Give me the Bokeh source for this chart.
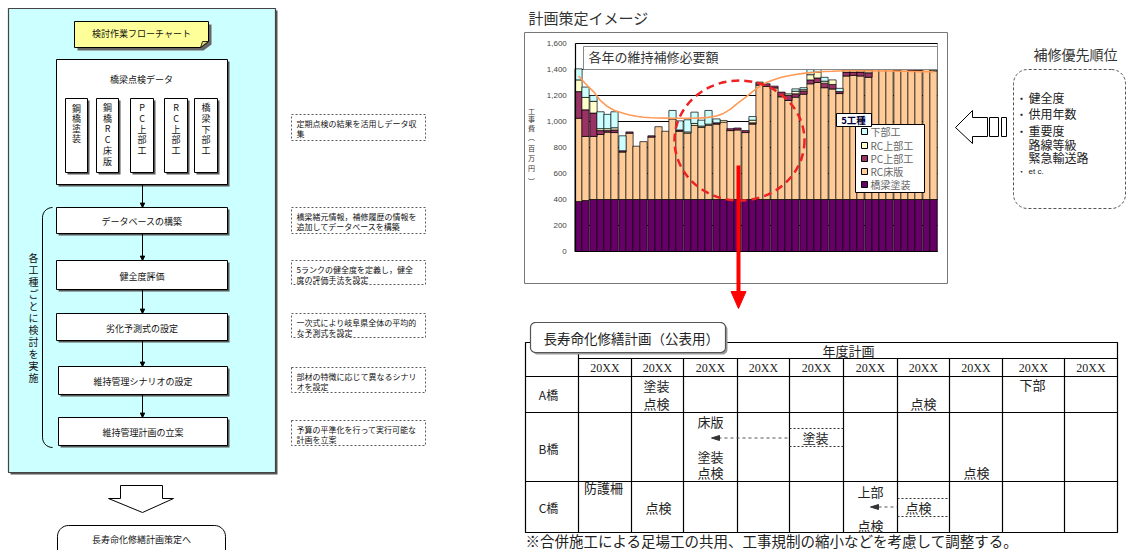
import numpy as np
from bokeh.plotting import figure
from bokeh.models import Range1d
from bokeh.core.properties import value
from bokeh.embed import file_html
from bokeh.resources import INLINE

JP = "Noto Sans CJK JP"

# ------------------------------------------------------------------
# Bar chart data: 各年の維持補修必要額 (工事費 百万円), 50 years
# ------------------------------------------------------------------
series_names = ["橋梁塗装", "RC床版", "PC上部工", "RC上部工", "下部工"]
series_colors = ["#660066", "#FFCC99", "#993366", "#FFFFCC", "#CCFFFF"]

painting = [385, 392, 400, 400, 400, 400, 400, 400, 400, 400,
            400, 400, 400, 400, 400, 400, 400, 400, 400, 400,
            400, 400, 400, 400, 400, 400, 400, 400, 400, 400,
            400, 400, 400, 400, 400, 400, 400, 400, 400, 400,
            400, 400, 400, 400, 400, 400, 400, 400, 400, 400]
rc_deck = [640, 493, 485, 500, 518, 515, 365, 510, 410, 445,
           480, 560, 525, 620, 525, 510, 570, 555, 570, 580,
           595, 530, 535, 515, 580, 880, 870, 858, 790, 762,
           787, 810, 890, 900, 860, 850, 815, 950, 955, 950,
           940, 1015, 1000, 1025, 995, 1030, 990, 992, 1005, 990]
pc_super = [205, 205, 180, 30, 12, 20, 10, 10, 0, 0,
            10, 0, 0, 0, 10, 0, 0, 0, 0, 10,
            0, 15, 15, 15, 10, 15, 20, 14, 36, 40,
            26, 25, 30, 35, 35, 35, 15, 30, 25, 30,
            35, 25, 25, 30, 25, 30, 15, 15, 15, 0]
rc_super = [90, 95, 90, 15, 15, 17, 0, 0, 0, 0,
            0, 0, 0, 0, 0, 10, 15, 10, 10, 0,
            13, 0, 0, 0, 20, 8, 0, 0, 0, 11,
            20, 10, 40, 45, 15, 35, 0, 15, 15, 10,
            20, 15, 10, 12, 10, 12, 5, 8, 8, 7]
substructure = [85, 80, 45, 130, 110, 123, 115, 0, 0, 0,
                0, 0, 0, 65, 70, 93, 87, 45, 105, 30,
                0, 0, 0, 0, 28, 0, 0, 0, 0, 0,
                18, 15, 45, 35, 30, 0, 25, 0, 0, 0,
                0, 0, 0, 0, 0, 0, 0, 0, 0, 0]
trend = [1350, 1290, 1230, 1160, 1115, 1085, 1065, 1050, 1040, 1033,
         1029, 1027, 1026, 1025, 1025, 1025, 1026, 1028, 1032, 1042,
         1062, 1095, 1140, 1185, 1230, 1270, 1300, 1323, 1340, 1352,
         1362, 1370, 1376, 1381, 1385, 1387, 1389, 1390, 1390, 1390,
         1389, 1389, 1388, 1388, 1387, 1386, 1385, 1384, 1383, 1382]
y_ticks = [0, 200, 400, 600, 800, 1000, 1200, 1400, 1600]
y_tick_labels = ["0", "200", "400", "600", "800", "1,000", "1,200", "1,400", "1,600"]

# ------------------------------------------------------------------
# Plan table data
# ------------------------------------------------------------------
year_labels = ["20XX"] * 10
bridge_labels = ["A橋", "B橋", "C橋"]

# ------------------------------------------------------------------
p = figure(width=1126, height=550, x_range=Range1d(0, 1126), y_range=Range1d(550, 0),
           output_backend="svg", toolbar_location=None, min_border=0,
           x_axis_location=None, y_axis_location=None)
p.grid.visible = False
p.outline_line_color = None
p.background_fill_color = "white"
p.border_fill_color = "white"


def quad(x0, y0, x1, y1, fill="white", line="black", lw=1.0, dash="solid"):
    p.quad(left=[x0], right=[x1], top=[y0], bottom=[y1], fill_color=fill,
           line_color=line, line_width=lw, line_dash=dash)


def txt(x, y, s, size, color="#111111", align="center", font=JP, style="normal"):
    p.text(x=[x], y=[y], text=[s], text_font=value(font), text_font_size=f"{size}px",
           text_color=color, text_align=align, text_baseline="middle",
           text_font_style=style)


def vtxt(x, y0, step, s, size, color="#111111", font=JP):
    chars = list(s)
    p.text(x=[x] * len(chars), y=[y0 + k * step for k in range(len(chars))], text=chars,
           text_font=value(font), text_font_size=f"{size}px", text_color=color,
           text_align="center", text_baseline="middle")


def rr_path(x0, y0, x1, y1, r, n=10):
    xs, ys = [], []
    for cx, cy, a0 in [(x1 - r, y0 + r, -90), (x1 - r, y1 - r, 0), (x0 + r, y1 - r, 90), (x0 + r, y0 + r, 180)]:
        for t in np.linspace(np.radians(a0), np.radians(a0 + 90), n):
            xs.append(cx + r * np.cos(t))
            ys.append(cy + r * np.sin(t))
    return xs, ys


def shadow_box(x0, y0, x1, y1, fill="white", off=2, lw=1.0):
    quad(x0 + off, y0 + off, x1 + off, y1 + off, fill="#555555", line=None)
    quad(x0, y0, x1, y1, fill=fill, line="black", lw=lw)


def tri_down(x, y, s=2.2):
    p.patch([x - s, x + s, x], [y - 2 * s, y - 2 * s, y], fill_color="black", line_color="black")


# ================= LEFT: flowchart =================
quad(10, 10, 277, 474, fill="#555555", line=None)
quad(8, 8, 275, 472, fill="#CCFFFF", line="#444444", lw=1.2)

# yellow note
p.patch([77, 211, 211, 203, 77], [24, 24, 44, 50, 50], fill_color="#666666", line_color=None)
p.patch([74, 208, 208, 200, 74], [21, 21, 41, 47, 47], fill_color="#FFFF99", line_color="black", line_width=1)
p.patch([200, 202, 208], [47, 41, 41], fill_color="#DDDD77", line_color="black", line_width=0.8)
txt(141, 33, "検討作業フローチャート", 9)

# data box
shadow_box(56, 59, 227, 184)
txt(141, 79, "橋梁点検データ", 9)
inner = [(65, 87, "鋼橋塗装", 108, 10.0), (96, 118, "鋼橋RC床版", 107, 10.7),
         (130, 153, "PC上部工", 107, 10.8), (164, 187, "RC上部工", 107, 10.8),
         (194, 217, "橋梁下部工", 107, 10.8)]
for x0, x1, s, y0, st in inner:
    shadow_box(x0, 98, x1, 172, off=2)
    vtxt((x0 + x1) / 2, y0, st, s, 9)

# process boxes
procs = [("データベースの構築", 207, 233, 56), ("健全度評価", 260, 289, 56),
         ("劣化予測式の設定", 313, 340, 56), ("維持管理シナリオの設定", 366, 394, 58),
         ("維持管理計画の立案", 417, 445, 58)]
p.segment(x0=[142], y0=[184], x1=[142], y1=[207], line_color="black", line_width=1)
tri_down(142, 207)
for k, (s, y0, y1, x0) in enumerate(procs):
    shadow_box(x0, y0, 227, y1)
    txt((x0 + 227) / 2, (y0 + y1) / 2 + 1, s, 9)
    if k + 1 < len(procs):
        ny = procs[k + 1][1]
        p.segment(x0=[142], y0=[y1], x1=[142], y1=[ny], line_color="black", line_width=1)
        tri_down(142, ny)

# bracket
bx, by = [], []
for t in np.linspace(np.radians(270), np.radians(180), 8):
    bx.append(52 + 10 * np.cos(t)); by.append(217 + 10 * np.sin(t))
for t in np.linspace(np.radians(180), np.radians(90), 8):
    bx.append(52 + 10 * np.cos(t)); by.append(437 + 10 * np.sin(t))
p.line(bx, by, line_color="black", line_width=1)
vtxt(33, 257, 12, "各工種ごとに検討を実施", 10)

# notes
notes = [(114, 140, "定期点検の結果を活用しデータ収", "集"),
         (207, 233, "橋梁緒元情報，補修履歴の情報を", "追加してデータベースを構築"),
         (260, 284, "5ランクの健全度を定義し，健全", "度の評価手法を設定"),
         (313, 337, "一次式により岐阜県全体の平均的", "な予測式を設定"),
         (367, 392, "部材の特徴に応じて異なるシナリ", "オを設定"),
         (420, 445, "予算の平準化を行って実行可能な", "計画を立案")]
for y0, y1, l1, l2 in notes:
    quad(291, y0, 425, y1, fill="white", line="#333333", lw=0.8, dash="2 2")
    txt(296, y0 + 9, l1, 8, align="left")
    txt(296, y0 + 19, l2, 8, align="left")

# hollow down arrow
p.patch([120, 162, 162, 173, 142, 108, 120], [485, 485, 498, 498, 512, 498, 498],
        fill_color="white", line_color="black", line_width=1)
xs, ys = rr_path(57, 525, 225, 562, 11)
p.patch(xs, ys, fill_color="white", line_color="black", line_width=1)
txt(141, 539, "長寿命化修繕計画策定へ", 9)

# ================= RIGHT TOP: chart =================
txt(528, 17, "計画策定イメージ", 15, color="#333333", align="left")
quad(524, 32, 947, 283, fill="white", line="#777777", lw=1)
quad(575, 43, 937, 251, fill="white", line="#999999", lw=1)

n = len(painting)
idx = np.arange(n)
chart = p.subplot(x_source=Range1d(-0.5, n - 0.5), y_source=Range1d(0, 1600),
                  x_target=Range1d(575, 937), y_target=Range1d(251, 43))

chart.segment(x0=[-0.5] * len(y_ticks), x1=[n - 0.5] * len(y_ticks), y0=y_ticks, y1=y_ticks,
              line_color="black", line_width=1)

stack = np.vstack([painting, rc_deck, pc_super, rc_super, substructure]).astype(float)
tops = np.cumsum(stack, axis=0)
bottoms = tops - stack
for i, color in enumerate(series_colors):
    m = stack[i] > 0
    chart.vbar(x=idx[m], bottom=bottoms[i][m], top=tops[i][m], width=1.0,
               fill_color=color, line_color="black", line_width=0.7)

chart.line(idx, trend, line_color="#FF9955", line_width=1.6)

chart.text(x=[-1.7] * len(y_ticks), y=y_ticks, text=y_tick_labels,
           text_font=value("Liberation Sans"), text_font_size="8px", text_color="#444444",
           text_align="right", text_baseline="middle")

# axis lines
p.segment(x0=[575, 575], y0=[43, 251], x1=[575, 937], y1=[251, 251], line_color="black", line_width=1.2)

# y title (vertical)
ytitle = ["工", "事", "費", "︵", "百", "万", "円", "︶"]
ypos = [110, 118, 127, 136, 147, 157, 167, 180]
p.text(x=[531] * len(ytitle), y=ypos, text=ytitle, text_font=value(JP), text_font_size="7px",
       text_color="#333333", text_align="center", text_baseline="middle")

# chart title box
quad(583, 46, 937, 69, fill="white", line="#888888", lw=1)
txt(588, 56, "各年の維持補修必要額", 13, color="#333333", align="left")

# legend
quad(855, 124, 924, 192, fill="white", line="black", lw=1)
leg_y = [131, 145, 158, 171, 184]
for k in range(5):
    si = 4 - k
    quad(861, leg_y[k] - 3, 867, leg_y[k] + 3, fill=series_colors[si], line="black", lw=1)
    txt(870, leg_y[k], series_names[si], 10, color="#666666", align="left")
quad(836, 113, 871, 126, fill="white", line="black", lw=1)
txt(853, 119.5, "5工種", 9.5, color="#000033", style="bold")

# red dashed ellipse and arrow
p.ellipse(x=[739], y=[140], width=[130], height=[120], fill_color=None,
          line_color="#EE2222", line_width=2.5, line_dash="8 5")
p.segment(x0=[738], y0=[165], x1=[738], y1=[292], line_color="#FF0000", line_width=4)
p.patch([730.5, 745.5, 738], [291, 291, 308], fill_color="#FF0000", line_color="#FF0000")

# priority box
txt(1075, 53, "補修優先順位", 14, color="#333333")
xs, ys = rr_path(1013, 69, 1125, 208, 14)
p.patch(xs, ys, fill_color="white", line_color="#555555", line_width=1, line_dash="3 2")
items = [("・", "健全度", 97), ("・", "供用年数", 113), ("・", "重要度", 130),
         ("", "路線等級", 143.5), ("", "緊急輸送路", 157)]
for b, s, y in items:
    if b:
        txt(1021, y, b, 11, color="#222222")
    txt(1028, y, s, 12, color="#222222", align="left")
txt(1021, 171, "・", 8, color="#222222")
txt(1028, 171, "et c.", 8, color="#222222", align="left", font="Liberation Sans")

# hollow left arrow
p.patch([955, 972, 972, 987, 987, 972, 972], [127, 110, 117, 117, 136, 136, 143],
        fill_color="white", line_color="black", line_width=1)
quad(989, 117, 998, 136, fill="white", line="black", lw=1)
quad(1001, 117, 1006, 136, fill="white", line="black", lw=1)

# ================= RIGHT BOTTOM: plan table =================
col_edges = [578, 631, 683, 737, 789, 843, 897, 949, 1002, 1064, 1117]
row_lines = [376, 412, 481]
TL = "black"
quad(525, 342, 1117, 532, fill=None, line=TL, lw=1.2)
p.segment(x0=[578], y0=[358], x1=[1117], y1=[358], line_color=TL, line_width=1.2)
p.segment(x0=[525] * 3, y0=row_lines, x1=[1117] * 3, y1=row_lines, line_color=TL, line_width=1.2)
p.segment(x0=[578], y0=[342], x1=[578], y1=[532], line_color=TL, line_width=1.2)
p.segment(x0=col_edges[1:-1], y0=[358] * 9, x1=col_edges[1:-1], y1=[532] * 9, line_color=TL, line_width=1.2)

centers = [(col_edges[k] + col_edges[k + 1]) / 2 for k in range(10)]
p.text(x=centers, y=[367] * 10, text=year_labels, text_font=value("Liberation Serif"),
       text_font_size="12px", text_color="#222222", text_align="center", text_baseline="middle")
txt(848, 350, "年度計画", 13, color="#222222")
for s, y in zip(bridge_labels, [394, 448, 507]):
    txt(548, y, s, 12, color="#222222")

# title tab
xs, ys = rr_path(530, 322, 725, 352, 5)
p.patch([x + 2 for x in xs], [y + 2 for y in ys], fill_color="#999999", line_color=None)
p.patch(xs, ys, fill_color="white", line_color="#555555", line_width=1.2)
txt(543, 337, "長寿命化修繕計画（公表用）", 13.5, color="#222222", align="left")

cell = [(656, 385, "塗装"), (656, 403, "点検"), (923, 403, "点検"), (1032, 384, "下部"),
        (710, 421, "床版"), (710, 456, "塗装"), (710, 472, "点検"), (815, 437, "塗装"),
        (976, 472, "点検"), (603, 487, "防護柵"), (658, 507, "点検"), (870, 491, "上部"),
        (870, 525, "点検"), (918, 507, "点検")]
for x, y, s in cell:
    txt(x, y, s, 13, color="#222222")

# dotted boxes and arrows
p.segment(x0=[789, 789, 897, 897], y0=[428, 446, 498, 516], x1=[843, 843, 949, 949],
          y1=[428, 446, 498, 516], line_color="#333333", line_width=1.2, line_dash="2 2")
p.segment(x0=[718, 878], y0=[437.5, 506.5], x1=[789, 897], y1=[437.5, 506.5],
          line_color="#555555", line_width=1, line_dash="3 3")
p.patch([711, 719, 719], [437.5, 435, 440], fill_color="#333333", line_color="#333333")
p.patch([870, 878, 878], [506.5, 504, 509], fill_color="#333333", line_color="#333333")

txt(525, 540, "※合併施工による足場工の共用、工事規制の縮小などを考慮して調整する。", 14.5,
    color="#222222", align="left")

open("out.html", "w").write(file_html(p, INLINE))
